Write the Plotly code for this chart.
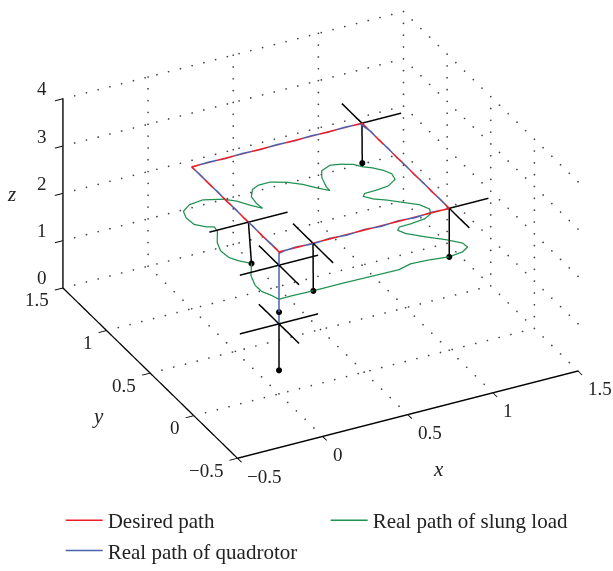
import numpy as np
import plotly.graph_objects as go

X_TICKS = [-0.5, 0, 0.5, 1, 1.5]
Y_TICKS = [-0.5, 0, 0.5, 1, 1.5]
Z_TICKS = [0, 1, 2, 3, 4]
TICK_TEXT_XY = ["\u22120.5", "0", "0.5", "1", "1.5"]
TICK_TEXT_Z = ["0", "1", "2", "3", "4"]

DESIRED_X = [0, 0, 1, 1, 0, 0]
DESIRED_Y = [0, 0, 0, 1, 1, 0]
DESIRED_Z = [2.5, 3, 3, 3, 3, 3]

QUAD_X = [0, 0, 0, 0.03, 0.1, 0.2, 0.3, 0.4, 0.5, 0.6, 0.7, 0.8, 0.9, 1.0,
          1.0, 1.0, 1.0, 1.0, 1.0, 1.0, 1.0, 1.0, 1.0, 0.99,
          0.9, 0.8, 0.7, 0.6, 0.5, 0.4, 0.3, 0.2, 0.1, 0.0,
          0.0, 0.0, 0.0, 0.0, 0.0, 0.0, 0.0, 0.0, 0.0, 0.002, 0.0]
QUAD_Y = [0, 0, 0, -0.002, 0.002, -0.002, 0.002, -0.002, 0.002, -0.002, 0.002, -0.002, 0.002, 0.0,
          0.1, 0.2, 0.3, 0.4, 0.5, 0.6, 0.7, 0.8, 0.9, 1.0,
          1.0, 1.0, 1.0, 1.0, 1.0, 1.0, 1.0, 1.0, 1.0, 1.0,
          0.9, 0.8, 0.7, 0.6, 0.5, 0.4, 0.3, 0.2, 0.1, 0.03, 0.0]
QUAD_Z = [1.5, 2.5, 2.97, 3.0, 3.008, 2.992, 3.008, 2.992, 3.008, 2.992, 3.008, 2.992, 3.008, 2.992,
          3.008, 2.992, 3.008, 2.992, 3.008, 2.992, 3.008, 2.992, 3.008, 2.992,
          3.008, 2.992, 3.008, 2.992, 3.008, 2.992, 3.008, 2.992, 3.008, 2.992,
          3.008, 2.992, 3.008, 2.992, 3.008, 2.992, 3.008, 2.992, 3.008, 3.0, 3.0]

LOAD_X = [0, 0, 0.067, 0.201, 0.388, 0.699, 0.782, 0.885, 0.994, 1.079, 1.126, 1.122, 1.061, 0.981, 0.904, 0.881, 0.905, 0.975, 1.061, 1.112, 1.131, 1.105, 1.039, 0.973, 0.916, 0.882, 0.904, 0.975, 1.049, 1.112, 1.123, 1.100, 1.059, 1.019, 0.990, 0.928, 0.877, 0.811, 0.780, 0.755, 0.755, 0.706, 0.660, 0.593, 0.516, 0.446, 0.400, 0.360, 0.352, 0.358, 0.312, 0.270, 0.216, 0.120, 0.034, -0.025, -0.044, -0.038, 0.006, 0.044, 0.038, -0.017, -0.041, -0.034, -0.004, 0.043, -0.018, -0.045, -0.043, -0.016, 0]
LOAD_Y = [0, 0, 0.002, -0.003, -0.003, -0.011, 0.016, 0.008, -0.011, 0.003, 0.036, 0.085, 0.156, 0.229, 0.308, 0.359, 0.385, 0.388, 0.401, 0.432, 0.480, 0.544, 0.605, 0.667, 0.709, 0.757, 0.780, 0.783, 0.794, 0.839, 0.898, 0.950, 1.002, 1.034, 1.077, 1.110, 1.125, 1.093, 1.032, 0.928, 0.890, 0.947, 1.010, 1.071, 1.111, 1.110, 1.084, 1.019, 0.946, 0.885, 0.947, 1.016, 1.064, 1.106, 1.093, 1.046, 0.979, 0.898, 0.848, 0.828, 0.780, 0.674, 0.589, 0.509, 0.453, 0.399, 0.286, 0.184, 0.113, 0.053, 0]
LOAD_Z_CRUISE = 2

SNAP_QX = [0, 0, 0.2, 1, 1, 0]
SNAP_QY = [0, 0, 0, 0, 1, 0.35]
SNAP_QZ = [1.48, 2.72, 3, 3, 3, 3]
SNAP_LX = [0, 0, 0.2, 0.994, 1.019, 0.043]
SNAP_LY = [0, 0, -0.003, -0.011, 1.034, 0.399]
SNAP_LZ = [0.5, 1.73, 2, 2, 2.08, 2]
# visible arm lengths and cables (the rest lies under the coloured paths)
ARM_XM = [0.23, 0.23, 0, 0, 0, 0.23]
ARM_XP = [0.23, 0.23, 0, 0.23, 0.23, 0.23]
ARM_YM = [0.23, 0.23, 0.23, 0.23, 0, 0]
ARM_YP = [0.23, 0.23, 0.23, 0, 0.23, 0]
CABLE = [1, 0, 1, 1, 1, 1]

RED, GREEN, BLUE = "#ee1c25", "#1f9150", "#4a62ad"

fig = go.Figure()

# dotted box grid, as small dots along each grid line
gx, gy, gz = [], [], []
def seg(a, b, n):
    for t in np.linspace(0, 1, n):
        gx.append(a[0] + (b[0] - a[0]) * t)
        gy.append(a[1] + (b[1] - a[1]) * t)
        gz.append(a[2] + (b[2] - a[2]) * t)
xmin, xmax = X_TICKS[0], X_TICKS[-1]
ymin, ymax = Y_TICKS[0], Y_TICKS[-1]
zmin, zmax = Z_TICKS[0], Z_TICKS[-1]
for v in X_TICKS[1:]:
    seg((v, ymin, zmin), (v, ymax, zmin), 21)
    seg((v, ymax, zmin), (v, ymax, zmax), 17)
for v in Y_TICKS[1:]:
    seg((xmin, v, zmin), (xmax, v, zmin), 30)
    seg((xmax, v, zmin), (xmax, v, zmax), 17)
for v in Z_TICKS[1:]:
    seg((xmin, ymax, v), (xmax, ymax, v), 30)
    seg((xmax, ymin, v), (xmax, ymax, v), 21)

fig.add_trace(go.Scatter3d(x=gx, y=gy, z=gz, mode="markers", showlegend=False, hoverinfo="skip",
                           marker=dict(color="#444444", size=1, line=dict(width=0))))

fig.add_trace(go.Scatter3d(x=DESIRED_X, y=DESIRED_Y, z=DESIRED_Z, mode="lines", showlegend=False,
                           line=dict(color=RED, width=3)))
fig.add_trace(go.Scatter3d(x=LOAD_X, y=LOAD_Y, z=[LOAD_Z_CRUISE] * len(LOAD_X), mode="lines", showlegend=False,
                           line=dict(color=GREEN, width=2.5)))
fig.add_trace(go.Scatter3d(x=QUAD_X, y=QUAD_Y, z=QUAD_Z, mode="lines", showlegend=False,
                           line=dict(color=BLUE, width=3)))

# thin keys for the legend
for name, color in [("Desired path", RED), ("Real path of slung load", GREEN), ("Real path of quadrotor", BLUE)]:
    fig.add_trace(go.Scatter3d(x=[None], y=[None], z=[None], mode="lines", name=name,
                               line=dict(color=color, width=1.5)))

# quadrotor snapshots
bx, by, bz = [], [], []
for i in range(len(SNAP_QX)):
    qx, qy, qz = SNAP_QX[i], SNAP_QY[i], SNAP_QZ[i]
    bx += [qx - ARM_XM[i], qx + ARM_XP[i], None, qx, qx, None]
    by += [qy, qy, None, qy - ARM_YM[i], qy + ARM_YP[i], None]
    bz += [qz, qz, None, qz, qz, None]
    if CABLE[i]:
        bx += [qx, SNAP_LX[i], None]
        by += [qy, SNAP_LY[i], None]
        bz += [qz, SNAP_LZ[i], None]
fig.add_trace(go.Scatter3d(x=bx, y=by, z=bz, mode="lines", showlegend=False, hoverinfo="skip",
                           line=dict(color="black", width=3)))
fig.add_trace(go.Scatter3d(x=SNAP_LX, y=SNAP_LY, z=SNAP_LZ, mode="markers", showlegend=False,
                           marker=dict(color="black", size=3.5)))

def axis(ticks):
    return dict(title=dict(text=""), range=[ticks[0], ticks[-1]], tickvals=ticks,
                showticklabels=False, showgrid=False, showbackground=False, zeroline=False,
                showspikes=False, showline=True, linecolor="black", linewidth=3,
                ticks="outside", ticklen=9, tickwidth=2, tickcolor="black", autorange=False)

TXT = dict(family="Liberation Serif", size=19, color="#222222")
TITLE = dict(family="Liberation Serif", size=21, color="#222222")
notes = []
for v, t in zip(X_TICKS, TICK_TEXT_XY):
    notes.append(dict(x=v, y=ymin, z=zmin, text=t, showarrow=False, font=TXT,
                      xanchor="left", yanchor="middle", xshift=8, yshift=-18))
for v, t in zip(Y_TICKS, TICK_TEXT_XY):
    notes.append(dict(x=xmin, y=v, z=zmin, text=t, showarrow=False, font=TXT,
                      xanchor="right", yanchor="middle", xshift=-12, yshift=-12))
for v, t in zip(Z_TICKS, TICK_TEXT_Z):
    notes.append(dict(x=xmin, y=ymax, z=v, text=t, showarrow=False, font=TXT,
                      xanchor="right", yanchor="middle", xshift=-14, yshift=10))
notes.append(dict(x=0.75, y=ymin, z=zmin, text="<i>x</i>", showarrow=False, font=TITLE, xshift=-12, yshift=-65))
notes.append(dict(x=xmin, y=0.5, z=zmin, text="<i>y</i>", showarrow=False, font=TITLE, xshift=-52, yshift=-43))
notes.append(dict(x=xmin, y=ymax, z=2, text="<i>z</i>", showarrow=False, font=TITLE, xshift=-51, yshift=-1))

K = 1.39
DIR = (-0.395, -0.7707, 0.50)
CENTER = (-0.0456, 0.0241, -0.1543)
ZOOM = 1.412

fig.update_layout(
    width=613, height=571,
    margin=dict(l=0, r=0, t=0, b=0),
    paper_bgcolor="white",
    font=dict(family="Liberation Serif", size=19, color="#222"),
    scene=dict(
        domain=dict(x=[0, 1], y=[0, 1]),
        xaxis=axis(X_TICKS), yaxis=axis(Y_TICKS), zaxis=axis(Z_TICKS),
        annotations=notes,
        aspectmode="manual", aspectratio=dict(x=ZOOM, y=ZOOM, z=0.571 * ZOOM),
        camera=dict(eye=dict(x=K * DIR[0] + CENTER[0], y=K * DIR[1] + CENTER[1], z=K * DIR[2] + CENTER[2]),
                    up=dict(x=0, y=0, z=1),
                    center=dict(x=CENTER[0], y=CENTER[1], z=CENTER[2]),
                    projection=dict(type="orthographic")),
    ),
    legend=dict(orientation="h", x=0.099, y=0.077, xanchor="left", yanchor="top",
                entrywidth=213, entrywidthmode="pixels", itemwidth=37,
                font=dict(family="Liberation Serif", size=21, color="#222"),
                bgcolor="rgba(0,0,0,0)"),
)
fig.write_html("out.html", config=dict(displayModeBar=False), post_script="document.body.style.margin='0';")
